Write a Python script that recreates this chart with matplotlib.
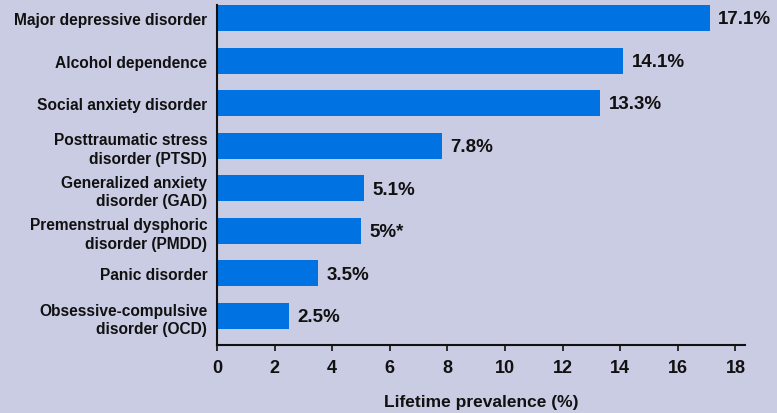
import matplotlib
matplotlib.use("Agg")
import matplotlib.pyplot as plt

categories = [
    "Major depressive disorder",
    "Alcohol dependence",
    "Social anxiety disorder",
    "Posttraumatic stress\ndisorder (PTSD)",
    "Generalized anxiety\ndisorder (GAD)",
    "Premenstrual dysphoric\ndisorder (PMDD)",
    "Panic disorder",
    "Obsessive-compulsive\ndisorder (OCD)",
]
values = [17.1, 14.1, 13.3, 7.8, 5.1, 5.0, 3.5, 2.5]
value_labels = ["17.1%", "14.1%", "13.3%", "7.8%", "5.1%", "5%*", "3.5%", "2.5%"]
xticks = [0, 2, 4, 6, 8, 10, 12, 14, 16, 18]
xlabel = "Lifetime prevalence (%)"

bg = "#C9CCE2"
bar_color = "#0072E2"

plt.rcParams['font.family'] = ['Liberation Sans', 'DejaVu Sans']
plt.rcParams['font.weight'] = 'bold'

fig = plt.figure(figsize=(7.77, 4.14), dpi=100, facecolor=bg)
ax = fig.add_axes([0.2793, 0.1643, 0.6795, 0.8213], facecolor=bg)

ypos = list(range(len(categories)))
ax.barh(ypos, values, height=0.61, color=bar_color)

for y, v, lab in zip(ypos, values, value_labels):
    ax.text(v + 0.3, y + 0.02, lab, ha='left', va='center', fontsize=13.5,
            fontweight='bold', color='#111111')

ax.set_ylim(7.68, -0.305)
ax.set_xlim(0, 18.33)
ax.set_yticks(ypos)
ax.set_yticklabels(categories, fontsize=11.2, fontweight='bold',
                   multialignment='right', linespacing=1.3, color='#111111')
ax.tick_params(axis='y', length=0, pad=7)
ax.set_xticks(xticks)
ax.set_xticklabels([str(t) for t in xticks], fontsize=13, fontweight='bold', color='#111111')
ax.tick_params(axis='x', length=4, width=1.2, pad=6, color='#111111')

for s in ['top', 'right']:
    ax.spines[s].set_visible(False)
for s in ['left', 'bottom']:
    ax.spines[s].set_linewidth(1.5)
    ax.spines[s].set_color('#111111')

ax.set_xlabel(xlabel, fontsize=12.5, fontweight='bold', labelpad=13, color='#111111')

fig.savefig("out.png", dpi=100, facecolor=bg)
